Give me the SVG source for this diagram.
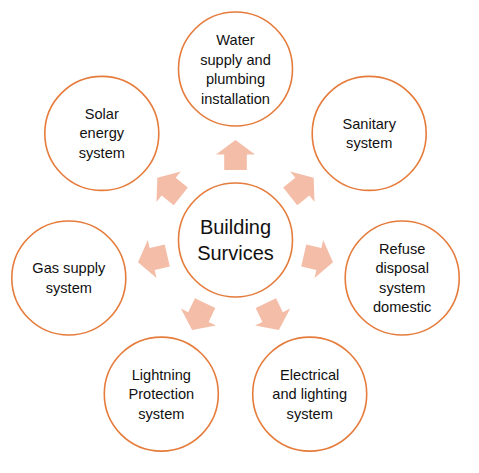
<svg xmlns="http://www.w3.org/2000/svg" width="479" height="473" viewBox="0 0 479 473">
<style>
.node circle{fill:#fff;stroke:#E57C3C;stroke-width:1.6}
text{font-family:"Liberation Sans",Arial,sans-serif;font-size:14.6px;fill:#111;text-anchor:middle}
.big{font-size:20px}
.arr{fill:#F4BDA7}
</style>
<defs>
<path id="a" d="M0,-100 L19.5,-85.5 L11.3,-85.5 L11.3,-70 L-11.3,-70 L-11.3,-85.5 L-19.5,-85.5 Z"/>
</defs>
<rect width="479" height="473" fill="#fff"/>
<g id="connectors" class="arr" transform="translate(235.5,240)">
<use href="#a"/>
<use href="#a" transform="rotate(51.43)"/>
<use href="#a" transform="rotate(102.86)"/>
<use href="#a" transform="rotate(154.29)"/>
<use href="#a" transform="rotate(-51.43)"/>
<use href="#a" transform="rotate(-102.86)"/>
<use href="#a" transform="rotate(-154.29)"/>
</g>
<g id="center" class="node"><circle cx="235.5" cy="240" r="57"/><text class="big" x="235.5" y="234">Building</text><text class="big" x="235.5" y="260">Survices</text></g>
<g id="water" class="node"><circle cx="235.5" cy="69" r="57"/><text x="235.5" y="45">Water</text><text x="235.5" y="64.5">supply and</text><text x="235.5" y="84">plumbing</text><text x="235.5" y="103.5">installation</text></g>
<g id="sanitary" class="node"><circle cx="369.2" cy="133.4" r="57"/><text x="369.2" y="128.6">Sanitary</text><text x="369.2" y="148.1">system</text></g>
<g id="refuse" class="node"><circle cx="402.2" cy="278" r="57"/><text x="402.2" y="253.8">Refuse</text><text x="402.2" y="273.3">disposal</text><text x="402.2" y="292.8">system</text><text x="402.2" y="312.3">domestic</text></g>
<g id="electrical" class="node"><circle cx="309.7" cy="394.1" r="57"/><text x="309.7" y="379.6">Electrical</text><text x="309.7" y="399.1">and lighting</text><text x="309.7" y="418.6">system</text></g>
<g id="lightning" class="node"><circle cx="161.3" cy="394.1" r="57"/><text x="161.3" y="379.6">Lightning</text><text x="161.3" y="399.1">Protection</text><text x="161.3" y="418.6">system</text></g>
<g id="gas" class="node"><circle cx="68.8" cy="278" r="57"/><text x="68.8" y="273.2">Gas supply</text><text x="68.8" y="292.7">system</text></g>
<g id="solar" class="node"><circle cx="101.8" cy="133.4" r="57"/><text x="101.8" y="118.9">Solar</text><text x="101.8" y="138.4">energy</text><text x="101.8" y="157.9">system</text></g>
</svg>
